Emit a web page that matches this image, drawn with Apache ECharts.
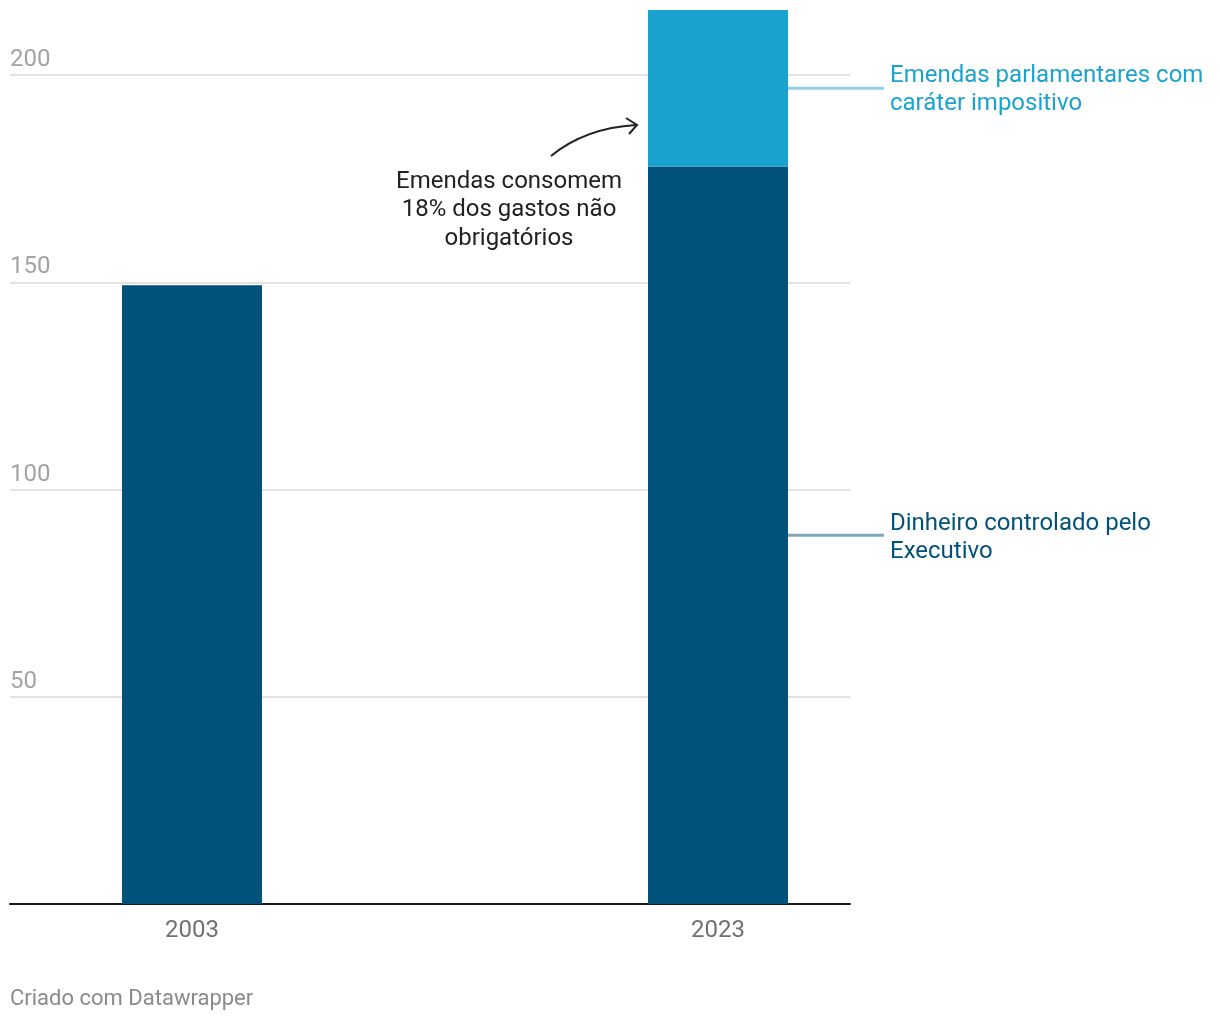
<!DOCTYPE html>
<html>
<head>
<meta charset="utf-8">
<script src="https://cdn.jsdelivr.net/npm/echarts@6/dist/echarts.min.js"></script>
<style>
html,body{margin:0;padding:0;background:#fff;}
#chart{width:1220px;height:1020px;}
</style>
</head>
<body>
<div id="chart"></div>
<script>
// Data (middle category is an empty spacer between the two years)
const years = ['2003', '', '2023'];
const executivo = [149.3, '-', 177.9];   // Dinheiro controlado pelo Executivo
const emendas = ['-', '-', 37.8];        // Emendas parlamentares com caráter impositivo
const yTicks = [0, 50, 100, 150, 200];
const seriesNames = ['Dinheiro controlado pelo\nExecutivo', 'Emendas parlamentares com\ncaráter impositivo'];
const annotationText = 'Emendas consomem\n18% dos gastos não\nobrigatórios';
const footerText = 'Criado com Datawrapper';

const DARK = '#00527a';
const LIGHT = '#1aa3ce';
const FONT = 'Roboto';
const BAR_W = 140;
const TOP = 75, BOTTOM = 116;

const chart = echarts.init(document.getElementById('chart'), null, {renderer: 'canvas'});

const yCommon = {
  type: 'value',
  min: yTicks[0],
  max: yTicks[yTicks.length - 1],
  interval: 50
};

const option = {
  animation: false,
  backgroundColor: '#fff',
  textStyle: {fontFamily: FONT},
  grid: [
    // frame grid: gridlines, y labels, baseline
    {left: 10, right: 370, top: TOP, bottom: BOTTOM, containLabel: false},
    // bar grid: category bands placed so bars sit where the original has them
    {left: 60.5, right: 370.5, top: TOP, bottom: BOTTOM, containLabel: false}
  ],
  xAxis: [
    {
      gridIndex: 0,
      type: 'value', min: 0, max: 1,
      splitLine: {show: false},
      axisLine: {show: true, onZero: false, lineStyle: {color: '#1a1a1a', width: 2}},
      axisTick: {show: false},
      axisLabel: {show: false}
    },
    {
      gridIndex: 1,
      type: 'category',
      data: years,
      axisLine: {show: false},
      axisTick: {show: false},
      splitLine: {show: false},
      axisLabel: {color: '#707070', fontSize: 24, fontFamily: FONT, margin: 15, interval: 0}
    }
  ],
  yAxis: [
    Object.assign({}, yCommon, {
      gridIndex: 0,
      axisLine: {show: false},
      axisTick: {show: false},
      splitLine: {show: true, lineStyle: {color: '#e3e3e3', width: 2}},
      axisLabel: {
        inside: true,
        showMinLabel: false,
        color: '#a3a3a3',
        fontSize: 24,
        fontFamily: FONT,
        verticalAlign: 'bottom',
        margin: 0,
        padding: [0, 0, 3, 0]
      }
    }),
    Object.assign({}, yCommon, {
      gridIndex: 1,
      show: false,
      splitLine: {show: false}
    })
  ],
  series: [
    {
      name: seriesNames[0],
      type: 'bar',
      xAxisIndex: 1, yAxisIndex: 1,
      stack: 'total',
      clip: false,
      barWidth: BAR_W,
      itemStyle: {color: DARK},
      data: executivo
    },
    {
      name: seriesNames[1],
      type: 'bar',
      xAxisIndex: 1, yAxisIndex: 1,
      stack: 'total',
      clip: false,
      barWidth: BAR_W,
      itemStyle: {color: LIGHT},
      data: emendas
    }
  ]
};
chart.setOption(option);

// Direct labels & annotation, positioned from data via the chart's scales
const lastIdx = years.length - 1;
const xCenter = chart.convertToPixel({xAxisIndex: 1}, years[lastIdx]);
const barRight = xCenter + BAR_W / 2;
const yDarkMid = chart.convertToPixel({yAxisIndex: 1}, executivo[lastIdx] / 2);
const yLightMid = chart.convertToPixel({yAxisIndex: 1}, executivo[lastIdx] + emendas[lastIdx] / 2);
const lineEnd = 884;
const textX = 890;

const graphics = [
  {type: 'line', shape: {x1: barRight, y1: yLightMid, x2: lineEnd, y2: yLightMid}, style: {stroke: '#8fd0e8', lineWidth: 3}, z: 10},
  {type: 'line', shape: {x1: barRight, y1: yDarkMid, x2: lineEnd, y2: yDarkMid}, style: {stroke: '#7ea7bf', lineWidth: 3}, z: 10},
  {type: 'text', x: textX, y: yLightMid + 2, style: {text: seriesNames[1], fill: LIGHT, font: '24px ' + FONT, lineHeight: 28, textVerticalAlign: 'middle', textAlign: 'left'}, z: 10},
  {type: 'text', x: textX, y: yDarkMid + 2.5, style: {text: seriesNames[0], fill: DARK, font: '24px ' + FONT, lineHeight: 28, textVerticalAlign: 'middle', textAlign: 'left'}, z: 10},
  {type: 'text', x: 509, y: 210, style: {text: annotationText, fill: '#222', font: '24px ' + FONT, lineHeight: 28.5, textVerticalAlign: 'middle', textAlign: 'center'}, z: 10},
  {type: 'bezierCurve', shape: {x1: 551, y1: 156, x2: 636, y2: 125, cpx1: 585, cpy1: 128}, style: {stroke: '#222', lineWidth: 2, fill: null}, z: 10},
  {type: 'polyline', shape: {points: [[626, 118], [637, 125], [629, 134]]}, style: {stroke: '#222', lineWidth: 2, fill: null}, z: 10},
  {type: 'text', x: 10, y: 999, style: {text: footerText, fill: '#8a8a8a', font: '22px ' + FONT, textVerticalAlign: 'middle', textAlign: 'left'}, z: 10}
];
chart.setOption({graphic: graphics});
</script>
</body>
</html>
